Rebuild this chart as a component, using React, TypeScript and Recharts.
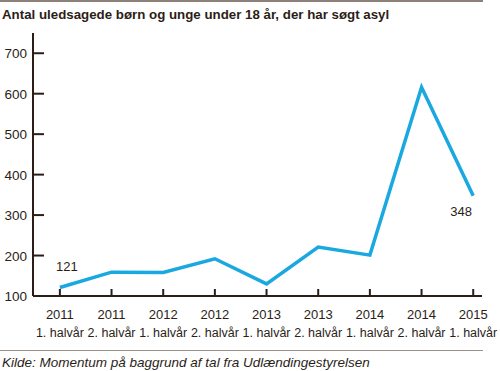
import { LineChart, Line, XAxis, YAxis } from 'recharts';

const years = ['2011', '2011', '2012', '2012', '2013', '2013', '2014', '2014', '2015'];
const halves = ['1. halvår', '2. halvår', '1. halvår', '2. halvår', '1. halvår', '2. halvår', '1. halvår', '2. halvår', '1. halvår'];
const children = [121, 159, 158, 192, 130, 221, 201, 616, 348];
const yTicks = [100, 200, 300, 400, 500, 600, 700];
const labelled = [0, 8];

const data = children.map((v, i) => ({ idx: i, value: v }));

const ink = '#2b1e17';
const font = '"Liberation Sans", Arial, Helvetica, sans-serif';

function YTick({ x, y, payload }: any) {
  return (
    <g>
      <line x1={x} x2={x + 11} y1={y} y2={y} stroke={ink} strokeWidth={2} />
      <text x={x - 6} y={y + 5} textAnchor="end" fontSize={13.5} fill={ink} fontFamily={font}>
        {payload.value}
      </text>
    </g>
  );
}

function XTick({ x, y, payload }: any) {
  const i = payload.value;
  return (
    <g>
      <line x1={x} x2={x} y1={y} y2={y - 7} stroke={ink} strokeWidth={2} />
      <text x={x} y={y + 23} textAnchor="middle" fontSize={13} fill={ink} fontFamily={font}>
        {years[i]}
      </text>
      <text x={x} y={y + 41} textAnchor="middle" fontSize={12.5} fill={ink} fontFamily={font}>
        {halves[i]}
      </text>
    </g>
  );
}

function PointLabel({ x, y, index, value }: any) {
  if (!labelled.includes(index)) return null;
  const first = index === 0;
  return (
    <text
      x={first ? x + 7 : x - 12}
      y={first ? y - 17 : y + 20}
      textAnchor="middle"
      fontSize={13}
      fill={ink}
      fontFamily={font}
    >
      {value}
    </text>
  );
}

export default function App() {
  return (
    <div style={{ position: 'absolute', left: 0, top: 0, width: 500, height: 371, background: '#fff', fontFamily: font }}>
      <div style={{ position: 'absolute', left: 0, top: 0, width: 483, height: 2, background: '#8c8078' }} />
      <div style={{ position: 'absolute', left: 2, top: 7, fontSize: 13.3, fontWeight: 'bold', color: ink }}>
        Antal uledsagede børn og unge under 18 år, der har søgt asyl
      </div>
      <LineChart width={500} height={350} data={data} margin={{ top: 33, right: 18, left: 0, bottom: 0 }}>
        <XAxis
          dataKey="idx"
          type="number"
          domain={[-0.52, 8.17]}
          ticks={[0, 1, 2, 3, 4, 5, 6, 7, 8]}
          interval={0}
          height={54}
          tickSize={0}
          tickMargin={0}
          tick={<XTick />}
          axisLine={{ stroke: ink, strokeWidth: 2 }}
          tickLine={false}
        />
        <YAxis
          domain={[100, 750]}
          ticks={yTicks}
          width={33}
          tickSize={0}
          tickMargin={0}
          tick={<YTick />}
          axisLine={{ stroke: ink, strokeWidth: 2 }}
          tickLine={false}
          allowDataOverflow
        />
        <Line
          type="linear"
          dataKey="value"
          stroke="#1aa8e0"
          strokeWidth={3.5}
          dot={false}
          isAnimationActive={false}
          label={<PointLabel />}
        />
      </LineChart>
      <div style={{ position: 'absolute', left: 0, top: 350, width: 483, height: 1, background: '#9a908a' }} />
      <div style={{ position: 'absolute', left: 2, top: 355, fontSize: 13.5, fontStyle: 'italic', color: ink }}>
        Kilde: Momentum på baggrund af tal fra Udlændingestyrelsen
      </div>
    </div>
  );
}
